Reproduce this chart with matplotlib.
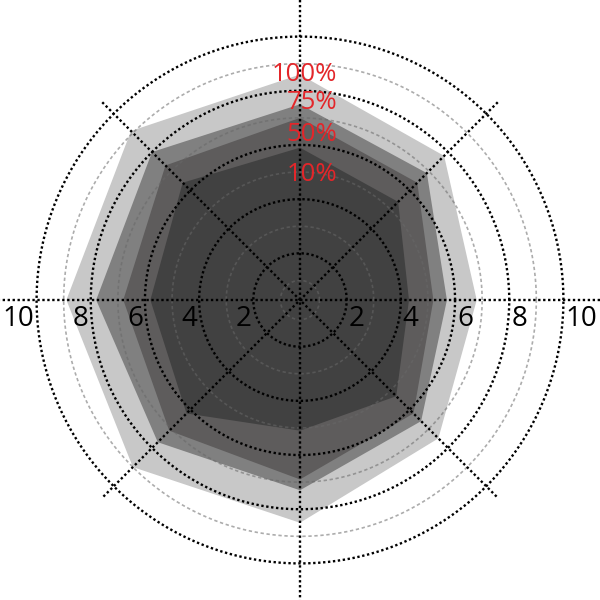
import matplotlib.pyplot as plt
import numpy as np

# directions of the 8 spokes (degrees, counter-clockwise from east)
angles_deg = [90, 45, 0, -45, -90, -135, 180, 135]

series_names = ['100%', '75%', '50%', '10%']
vals_100 = [8.6, 7.8, 6.8, 7.5, 8.5, 9.0, 8.9, 9.1]
vals_75 = [7.5, 6.9, 5.7, 6.6, 7.3, 7.7, 7.8, 8.0]
vals_50 = [7.0, 6.4, 5.2, 6.2, 6.9, 7.1, 6.8, 7.3]
vals_10 = [5.9, 5.4, 4.3, 5.3, 5.1, 6.2, 5.8, 6.4]
fill_colors = ['#c8c8c8', '#808080', '#5e5c5c', '#414141']

# where the red series labels sit on the north spoke
label_r = [8.6, 7.55, 6.4, 4.9]

ring_major = [2, 4, 6, 8, 10]
ring_minor = [1, 3, 5, 7, 9]

r_min, r_max = 0.277, 11.35

fig = plt.figure(figsize=(6, 6), dpi=100)
ax = fig.add_axes([0, 0, 1, 1], projection='polar')
ax.set_ylim(r_min, r_max)
ax.set_axis_off()

theta = np.deg2rad(angles_deg)
for vals, col in zip([vals_100, vals_75, vals_50, vals_10], fill_colors):
    ax.fill(np.append(theta, theta[0]), vals + vals[:1], color=col, lw=0, zorder=1)

# rings
circ = np.linspace(0, 2 * np.pi, 400)
for v in ring_minor:
    ax.plot(circ, np.full_like(circ, v), color='#686868', alpha=0.55, lw=1.2,
            dashes=(2, 1.6), zorder=2)
for v in ring_major:
    ax.plot(circ, np.full_like(circ, v), color='black', lw=1.7,
            dashes=(1, 1.1), zorder=3)

# spokes: axes run to the figure edge, diagonals a bit past the outer ring
for a in [0, 90]:
    t = np.deg2rad(a)
    ax.plot([t, t + np.pi], [r_max, r_max], color='black', lw=1.7,
            dashes=(1, 1.1), zorder=3)
for a in [45, 135]:
    t = np.deg2rad(a)
    ax.plot([t, t + np.pi], [10.6, 10.6], color='black', lw=1.7,
            dashes=(1, 1.1), zorder=3)

# tick labels along the horizontal axis
for v in ring_major:
    ax.annotate(str(v), xy=(0, v), xytext=(2, -5), textcoords='offset pixels',
                ha='left', va='top', fontsize=20, family='Open Sans', zorder=4)
    ax.annotate(str(v), xy=(np.pi, v), xytext=(-2, -5), textcoords='offset pixels',
                ha='right', va='top', fontsize=20, family='Open Sans', zorder=4)

# series labels
for name, r in zip(series_names, label_r):
    ax.annotate(name, xy=(np.pi / 2, r), xytext=(37, 0), textcoords='offset pixels',
                ha='right', va='center', fontsize=18.5, family='Open Sans',
                color='#e3262a', zorder=5)

fig.savefig('out.png', dpi=100, facecolor='white')
